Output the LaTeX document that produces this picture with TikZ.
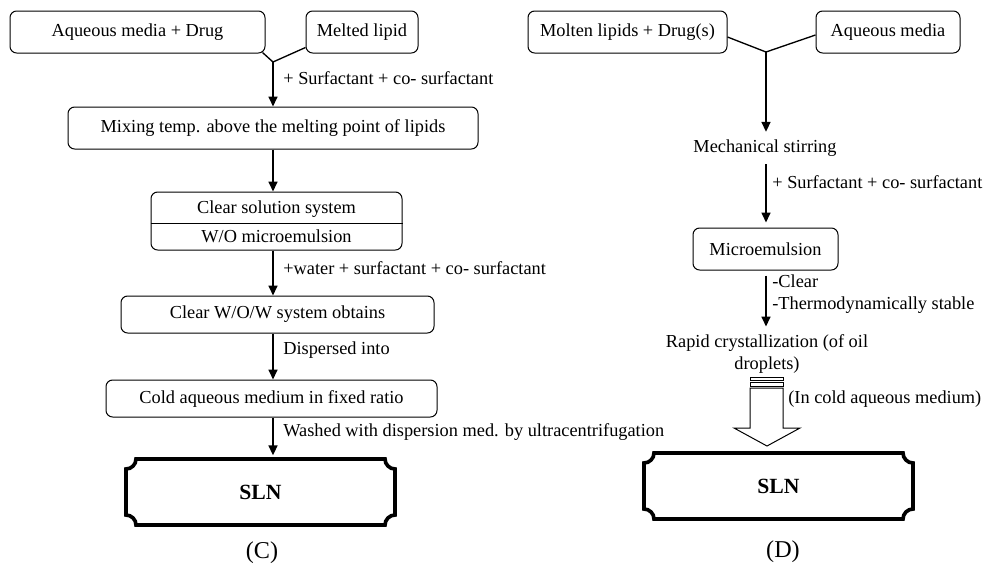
\documentclass[tikz,border=0pt]{standalone}
\usepackage{fontspec}
\setmainfont{Liberation Serif}
\usetikzlibrary{arrows.meta}

% plaque with concave corners: x1, y1, x2, y2
\newcommand{\plaque}[4]{%
  \draw[line width=2.2pt, line join=miter]
    (#1+10,#2) -- (#3-10,#2)
    .. controls (#3-10,#2+5.5) and (#3-5.5,#2+10) .. (#3,#2+10)
    -- (#3,#4-10)
    .. controls (#3-5.5,#4-10) and (#3-10,#4-5.5) .. (#3-10,#4)
    -- (#1+10,#4)
    .. controls (#1+10,#4-5.5) and (#1+5.5,#4-10) .. (#1,#4-10)
    -- (#1,#2+10)
    .. controls (#1+5.5,#2+10) and (#1+10,#2+5.5) .. (#1+10,#2) -- cycle;}

\begin{document}
\begin{tikzpicture}[x=0.6pt, y=-0.6pt,
    font=\fontsize{11}{13.5}\selectfont,
    box/.style={draw, rounded corners=4pt, line width=0.6pt, inner sep=0pt, align=center},
    flow/.style={line width=1pt, -{Triangle[length=6pt,width=5.4pt]}},
    fork/.style={line width=0.8pt},
    note/.style={anchor=west, inner sep=0pt, align=left},
    sln/.style={inner sep=0pt, font=\fontsize{13}{15}\selectfont\bfseries},
    tag/.style={font=\fontsize{14.5}{16}\selectfont}]
  \useasboundingbox (0,0) rectangle (985,569);

  % (C)
  \node[box, minimum width=153pt, minimum height=25.2pt] (aqC) at (137.5,32) {Aqueous media + Drug};
  \node[box, minimum width=67.2pt, minimum height=25.2pt] (lipC) at (362,32) {Melted lipid};
  \coordinate (jC) at (273,62);
  \draw[fork] ([xshift=-1.8pt,yshift=0.6pt]aqC.south east) -- (jC) -- ([yshift=3.6pt]lipC.south west);

  \node[box, minimum width=246pt, minimum height=25.2pt] (mixC) at (273,128) {Mixing temp. above the melting point of lipids};
  \node[box, minimum width=150.6pt, minimum height=34.8pt] (clrC) at (276.5,221) {};
  \node (clrTop) at (276.5,209) {Clear solution system};
  \node (clrBot) at (276.5,236) {W/O microemulsion};
  \coordinate (divC) at (0,223);
  \draw[line width=0.6pt] (clrC.west |- divC) -- (clrC.east |- divC);
  \node[box, minimum width=187.8pt, minimum height=22.2pt] (wowC) at (277.5,314.5) {Clear W/O/W system obtains};
  \node[box, minimum width=198.6pt, minimum height=22.2pt] (coldC) at (271.5,398.5) {Cold aqueous medium in fixed ratio};
  \node[sln, minimum width=161.4pt, minimum height=39.6pt] (slnC) at (260.5,492) {SLN};
  \plaque{126}{459}{395}{525}
  \node[tag] (capC) at (262,553) {(C)};

  \draw[flow] (jC) -- (mixC.north -| jC);
  \draw[flow] (mixC.south -| jC) -- (clrC.north -| jC);
  \draw[flow] (clrC.south -| jC) -- (wowC.north -| jC);
  \draw[flow] (wowC.south -| jC) -- (coldC.north -| jC);
  \draw[flow, shorten >=2pt] (coldC.south -| jC) -- (slnC.north -| jC);

  \node[note] (sC1) at (283,78) {+ Surfactant + co- surfactant};
  \node[note] (sC2) at (283,268) {+water + surfactant + co- surfactant};
  \node[note] (sC3) at (283,350) {Dispersed into};
  \node[note] (sC4) at (283,432) {Washed with dispersion med. by ultracentrifugation};

  % (D)
  \node[box, minimum width=119.4pt, minimum height=25.2pt] (molD) at (627.5,32) {Molten lipids + Drug(s)};
  \node[box, minimum width=86.4pt, minimum height=25.2pt] (aqD) at (888,32) {Aqueous media};
  \coordinate (jD) at (766,52);
  \draw[fork] ([yshift=-3pt]molD.east) -- (jD) -- ([yshift=-1.8pt]aqD.west);

  \node[inner xsep=0pt, inner ysep=4.5pt] (mechD) at (765,148) {Mechanical stirring};
  \node[box, minimum width=87pt, minimum height=25.2pt] (micD) at (765.5,249) {Microemulsion};
  \node[align=center, inner sep=0pt] (rapD) at (767,354) {Rapid crystallization (of oil\\droplets)};
  \node[sln, minimum width=161.4pt, minimum height=39pt] (slnD) at (778.5,486) {SLN};
  \plaque{644}{453}{913}{519}
  \node[tag] (capD) at (783,552) {(D)};

  \draw[flow] (jD) -- (mechD.north -| jD);
  \draw[flow, shorten >=3pt] (mechD.south -| jD) -- (micD.north -| jD);
  \draw[flow, shorten <=3pt, shorten >=4.5pt] (micD.south -| jD) -- (rapD.north -| jD);

  % striped block arrow
  \draw[line width=0.6pt] (750,377) rectangle (783,380);
  \draw[line width=0.6pt] (750,382) rectangle (783,386);
  \draw[line width=0.6pt, line join=miter] (750,388) -- (750,428) -- (734,428) -- (767,446)
    -- (800,428) -- (783,428) -- (783,388) -- cycle;

  \node[note] (sD1) at (772,182) {+ Surfactant + co- surfactant};
  \node[note] (sD2) at (772,294) {-Clear\\-Thermodynamically stable};
  \node[note] (sD3) at (788,399) {(In cold aqueous medium)};
\end{tikzpicture}
\end{document}
